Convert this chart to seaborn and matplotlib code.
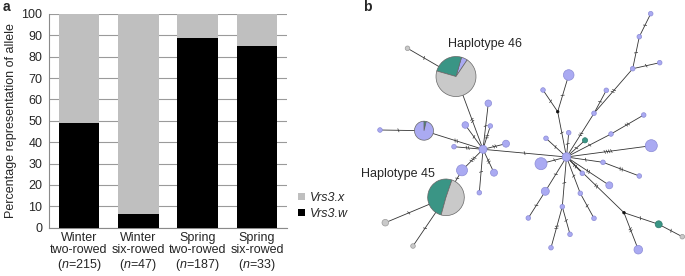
import numpy as np
import pandas as pd
import matplotlib
matplotlib.use("Agg")
import matplotlib.pyplot as plt
from matplotlib.patches import Circle, Wedge, Patch
import seaborn as sns

# ---- panel a data ----
groups = ["Winter\ntwo-rowed\n($\\it{n}$=215)", "Winter\nsix-rowed\n($\\it{n}$=47)",
          "Spring\ntwo-rowed\n($\\it{n}$=187)", "Spring\nsix-rowed\n($\\it{n}$=33)"]
vrs3_w = [49.2, 6.4, 88.8, 84.8]
vrs3_x = [100 - v for v in vrs3_w]
allele_labels = ["Vrs3.x", "Vrs3.w"]

# ---- panel b data (network layout, pixel space of the figure) ----
node_x = [483, 566.5, 456, 407.5, 424, 380, 446, 385.3, 413, 462,
          488.3, 465.3, 490.3, 454, 506, 494, 479.3,
          541, 546, 568.7, 585, 557.7, 543, 568.7, 594, 606.3,
          632.7, 659.7, 639.3, 650.7, 611, 643.7, 651.3, 603, 639.3,
          582.3, 609.3, 580.3, 594, 562.3, 551, 570, 545.3, 528.3,
          624, 658.7, 682.3, 638.3]
node_y = [149.3, 157, 76.5, 48.3, 130.7, 130, 197.3, 222.7, 246, 170.3,
          103.3, 125, 126, 146.7, 143.7, 172.7, 192.7,
          163.7, 138.3, 132.7, 140.3, 111.7, 90, 75, 113.3, 90.3,
          68.7, 62.7, 36.7, 13.7, 134, 115, 145.7, 162.3, 176,
          173.3, 185.3, 193.3, 218.3, 206.7, 247.7, 234.3, 191.3, 218,
          212.7, 224.3, 236.7, 249.7]
node_r = [4, 4.3, 20, 2.3, 9.5, 2.3, 18.3, 3.3, 2.3, 5.5,
          3.3, 3.3, 2.3, 2.3, 3.5, 3.5, 2.3,
          6, 2.3, 2.3, 2.6, 1.3, 2.3, 5.3, 2.3, 2.3,
          2.3, 2.3, 2.3, 2.3, 2.3, 2.3, 6, 2.3, 2.3,
          2.3, 3.5, 2.3, 2.3, 2.3, 2.3, 2.3, 4, 2.3,
          1.3, 3.5, 2.3, 4.3]
node_kind = ["p", "p", "pie46", "g", "pie_s", "p", "pie45", "g", "g", "p",
             "p", "p", "p", "p", "p", "p", "p",
             "p", "p", "p", "t", "k", "p", "p", "p", "p",
             "p", "p", "p", "p", "p", "p", "p", "p", "p",
             "p", "p", "p", "p", "p", "p", "p", "p", "p",
             "k", "t", "g", "p"]

edge_src = [3, 2, 5, 4, 7, 8, 6, 9, 0, 0, 0, 0, 0, 0, 0, 0,
            1, 1, 1, 1, 21, 21, 1, 1, 24, 24, 26, 26, 28, 1, 30, 1, 1, 33,
            1, 1, 1, 37, 1, 39, 39, 1, 42, 1, 44, 45, 44]
edge_dst = [2, 0, 4, 0, 6, 6, 9, 0, 10, 11, 12, 13, 14, 15, 16, 1,
            17, 18, 19, 21, 22, 23, 20, 24, 25, 26, 27, 28, 29, 30, 31, 32, 33, 34,
            35, 36, 37, 38, 39, 40, 41, 42, 43, 44, 45, 46, 47]
edge_ticks = [1, 2, 1, 2, 1, 1, 1, 3, 1, 1, 2, 2, 2, 2, 1, 1,
              1, 1, 1, 1, 1, 1, 1, 2, 1, 2, 1, 1, 1, 1, 2, 4, 1, 2,
              2, 2, 1, 1, 1, 2, 1, 1, 1, 2, 1, 1, 2]

# pie compositions: (parts in %, colours, visual start angle in degrees)
hap46_parts = [5, 25, 70]
hap46_cols = ["p", "t", "g"]
hap46_start = 56
hap45_parts = [51, 49]
hap45_cols = ["t", "g"]
hap45_start = 71
pie_s_parts = [4, 96]
pie_s_cols = ["t", "p"]
pie_s_start = 76

face = {"p": "#aaaaf2", "t": "#3a9585", "g": "#c9c9c9", "k": "#111111"}
edgec = {"p": "#8c8cd6", "t": "#2e7a6c", "g": "#9a9a9a", "k": "#111111"}

sns.set_theme(style="white")
plt.rcParams["font.family"] = ["Liberation Sans", "DejaVu Sans"]
plt.rcParams["mathtext.fontset"] = "custom"
plt.rcParams["mathtext.it"] = "Liberation Sans:italic"
plt.rcParams["mathtext.rm"] = "Liberation Sans"

fig = plt.figure(figsize=(6.85, 2.76), dpi=100)

# ================= panel a =================
ax = fig.add_axes([49.3 / 685, 1 - 227.7 / 276, 237.4 / 685, 213.7 / 276])
df = pd.DataFrame({"group": groups, "w": vrs3_w, "x": vrs3_x})
df["total"] = df["w"] + df["x"]
sns.barplot(data=df, x="group", y="total", color="#bfbfbf", width=0.68,
            saturation=1, linewidth=0, edgecolor="none", ax=ax, zorder=2)
sns.barplot(data=df, x="group", y="w", color="black", width=0.68,
            saturation=1, linewidth=0, edgecolor="none", ax=ax, zorder=3)
ax.set_ylim(0, 100)
ax.set_yticks(range(0, 101, 10))
ax.yaxis.grid(True, color="#9a9a9a", lw=0.8, zorder=0)
ax.set_axisbelow(True)
for s in ["top", "right"]:
    ax.spines[s].set_visible(False)
for s in ["left", "bottom"]:
    ax.spines[s].set_color("#8a8a8a")
    ax.spines[s].set_linewidth(0.8)
ax.tick_params(axis="y", length=3, color="#8a8a8a", width=0.8, labelsize=9, pad=2)
ax.tick_params(axis="x", length=0, labelsize=9, pad=3)
ax.set_xlabel("")
ax.set_ylabel("Percentage representation of allele", fontsize=9, labelpad=3)
for t in ax.get_xticklabels():
    t.set_linespacing(1.05)

handles = [Patch(facecolor="#bfbfbf", edgecolor="none"),
           Patch(facecolor="black", edgecolor="none")]
fig.legend(handles, allele_labels, loc="center left",
           bbox_to_anchor=(293 / 685, 1 - 206 / 276), frameon=False,
           prop={"style": "italic", "size": 9}, handlelength=0.55,
           handleheight=0.55, handletextpad=0.4, labelspacing=0.3,
           borderaxespad=0)

fig.text(3 / 685, 1 - 7 / 276, "a", fontsize=10, fontweight="bold", va="center")
fig.text(363 / 685, 1 - 7 / 276, "b", fontsize=10, fontweight="bold", va="center")

# ================= panel b =================
axb = fig.add_axes([340 / 685, 0, 345 / 685, 1])
axb.set_xlim(340, 685)
axb.set_ylim(276, 0)
axb.axis("off")

pts = np.column_stack([node_x, node_y])

for s, d, k in zip(edge_src, edge_dst, edge_ticks):
    p, q = pts[s], pts[d]
    axb.plot([p[0], q[0]], [p[1], q[1]], color="#333333", lw=0.6, zorder=1)
    v = q - p
    L = np.hypot(*v)
    u = v / L
    nrm = np.array([-u[1], u[0]])
    mid = (node_r[s] + L - node_r[d]) / 2
    for o in (np.arange(k) - (k - 1) / 2) * 2.2:
        c = p + u * (mid + o)
        a0 = c - nrm * 1.6 - u * 0.6
        a1 = c + nrm * 1.6 + u * 0.6
        axb.plot([a0[0], a1[0]], [a0[1], a1[1]], color="#333333", lw=0.5, zorder=1)


def draw_pie(i, parts, cols, start):
    ang = start
    for frac, c in zip(parts, cols):
        span = frac / 100 * 360
        axb.add_patch(Wedge((node_x[i], node_y[i]), node_r[i], -(ang + span), -ang,
                            facecolor=face[c], edgecolor="#666666", lw=0.5, zorder=3))
        ang += span


for i, kind in enumerate(node_kind):
    if kind == "pie46":
        draw_pie(i, hap46_parts, hap46_cols, hap46_start)
    elif kind == "pie45":
        draw_pie(i, hap45_parts, hap45_cols, hap45_start)
    elif kind == "pie_s":
        draw_pie(i, pie_s_parts, pie_s_cols, pie_s_start)
    else:
        axb.add_patch(Circle((node_x[i], node_y[i]), node_r[i], facecolor=face[kind],
                             edgecolor=edgec[kind], lw=0.5, zorder=3))

axb.text(485.5, 44.5, "Haplotype 46", fontsize=9, ha="center", va="center")
axb.text(398, 174.5, "Haplotype 45", fontsize=9, ha="center", va="center")

fig.savefig("out.png", dpi=100)
